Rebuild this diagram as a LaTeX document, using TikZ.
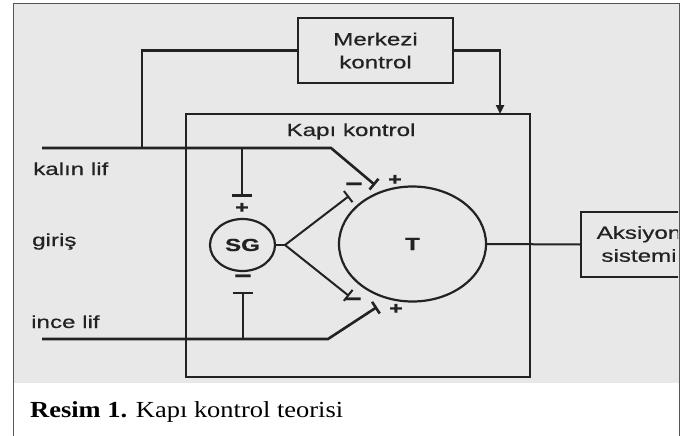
\documentclass[tikz,border=0pt]{standalone}
\usepackage{fontspec}
\setmainfont{Liberation Serif}
\newfontfamily\diag[FakeStretch=1.38,FakeBold=0.6]{Liberation Sans}
\newfontfamily\capserif[FakeStretch=1.15]{Liberation Serif}
\usetikzlibrary{arrows.meta,shapes.geometric}
\definecolor{bg}{HTML}{E8E8E8}
\definecolor{ink}{HTML}{222222}
\definecolor{framec}{HTML}{555555}
\begin{document}
\begin{tikzpicture}[x=1pt,y=-1pt,
  lbl/.style={font=\diag\fontsize{17.5}{23}\selectfont, text=ink, inner sep=0pt, align=center},
  wire/.style={draw=ink, line width=2.6pt},
  thinwire/.style={draw=ink, line width=2pt},
  boxstyle/.style={draw=ink, line width=2.4pt},
  cell/.style={ellipse, draw=ink, line width=2.2pt, inner sep=0pt, text=ink, font=\diag\fontsize{17.5}{19}\selectfont\bfseries},
  synd/.style={-{Bar[width=14pt]}},
  synv/.style={-{Bar[width=20pt]}},
  sign/.style={font=\diag\fontsize{17}{17}\selectfont\bfseries, text=ink, inner sep=0pt},
  minus/.style={font=\diag\fontsize{22}{22}\selectfont\bfseries, text=ink, inner sep=0pt}]
\useasboundingbox (0,0) rectangle (693,436);
\fill[white] (0,0) rectangle (693,436);
\fill[bg] (13,4) rectangle (679,383);
\draw[framec, line width=1pt] (13,436) -- (13,4) -- (679,4) -- (679,436);

% boxes and cells
\node[boxstyle, lbl, minimum width=155pt, minimum height=65pt] (merk) at (375.5,50.5) {Merkezi\\kontrol};
\node[boxstyle, minimum width=344pt, minimum height=263pt] (gate) at (358,245.5) {};
\node[lbl, anchor=base] (gatelbl) at (351,136) {Kapı kontrol};
\node[cell, minimum width=65pt, minimum height=52pt] (SG) at (242.5,245) {SG};
\node[cell, minimum width=147pt, minimum height=115pt] (T) at (412.5,244) {T};
\begin{scope}
  \clip (0,0) rectangle (678,436);
  \node[boxstyle, minimum width=140pt, minimum height=65pt, anchor=west] (aks) at (580,244.5) {};
  \node[lbl] (akslbl) at (639,244) {Aksiyon\\sistemi};
\end{scope}

% fibre labels
\node[lbl, anchor=base west] (kalin) at (33,175) {kalın lif};
\node[lbl, anchor=base west] (giris) at (32,246) {giriş};
\node[lbl, anchor=base west] (ince) at (31,328) {ince lif};

% coordinates
\coordinate (kL) at (42,148);
\coordinate (kJ) at (142,148);
\coordinate (kS) at (242,148);
\coordinate (kB) at (331,148);
\coordinate (kE) at (375,185);
\coordinate (sgTop) at (242,197);
\coordinate (gin) at (500,114);
\coordinate (iL) at (42,339);
\coordinate (iS) at (243,339);
\coordinate (iB) at (328,339);
\coordinate (iE) at (377,307);
\coordinate (sgBot) at (243,292);
\coordinate (br) at (285,245);
\coordinate (uE) at (349,196);
\coordinate (lE) at (349,296);

% central control connections
\draw[wire] (merk.west) -| (kJ);
\draw[wire, -{Triangle[width=8pt,length=9pt]}] (merk.east) -| (gin);

% thick fibre
\draw[wire, synd] (kL) -- (kB) -- (kE);
\draw[wire, synv] (kS) -- (sgTop);

% thin fibre
\draw[wire, synd] (iL) -- (iB) -- (iE);
\draw[thinwire, synv] (iS) -- (sgBot);

% SG to T
\draw[thinwire] (SG.east) -- (br);
\draw[thinwire, synd] (br) -- (uE);
\draw[thinwire, synd] (br) -- (lE);

% T to action system
\draw[thinwire] (T.east) -- (aks.west);

% signs
\node[sign] (p1) at (242,208) {+};
\node[minus] (m1) at (243,279) {−};
\node[minus] (m2) at (354,187) {−};
\node[sign] (p2) at (395,180) {+};
\node[minus] (m3) at (353,302) {−};
\node[sign] (p3) at (396,309) {+};

% caption
\node[anchor=base west, inner sep=0pt, font=\capserif\fontsize{23}{27}\selectfont] (cap) at (30,417) {\textbf{Resim 1.} Kapı kontrol teorisi};
\end{tikzpicture}
\end{document}
